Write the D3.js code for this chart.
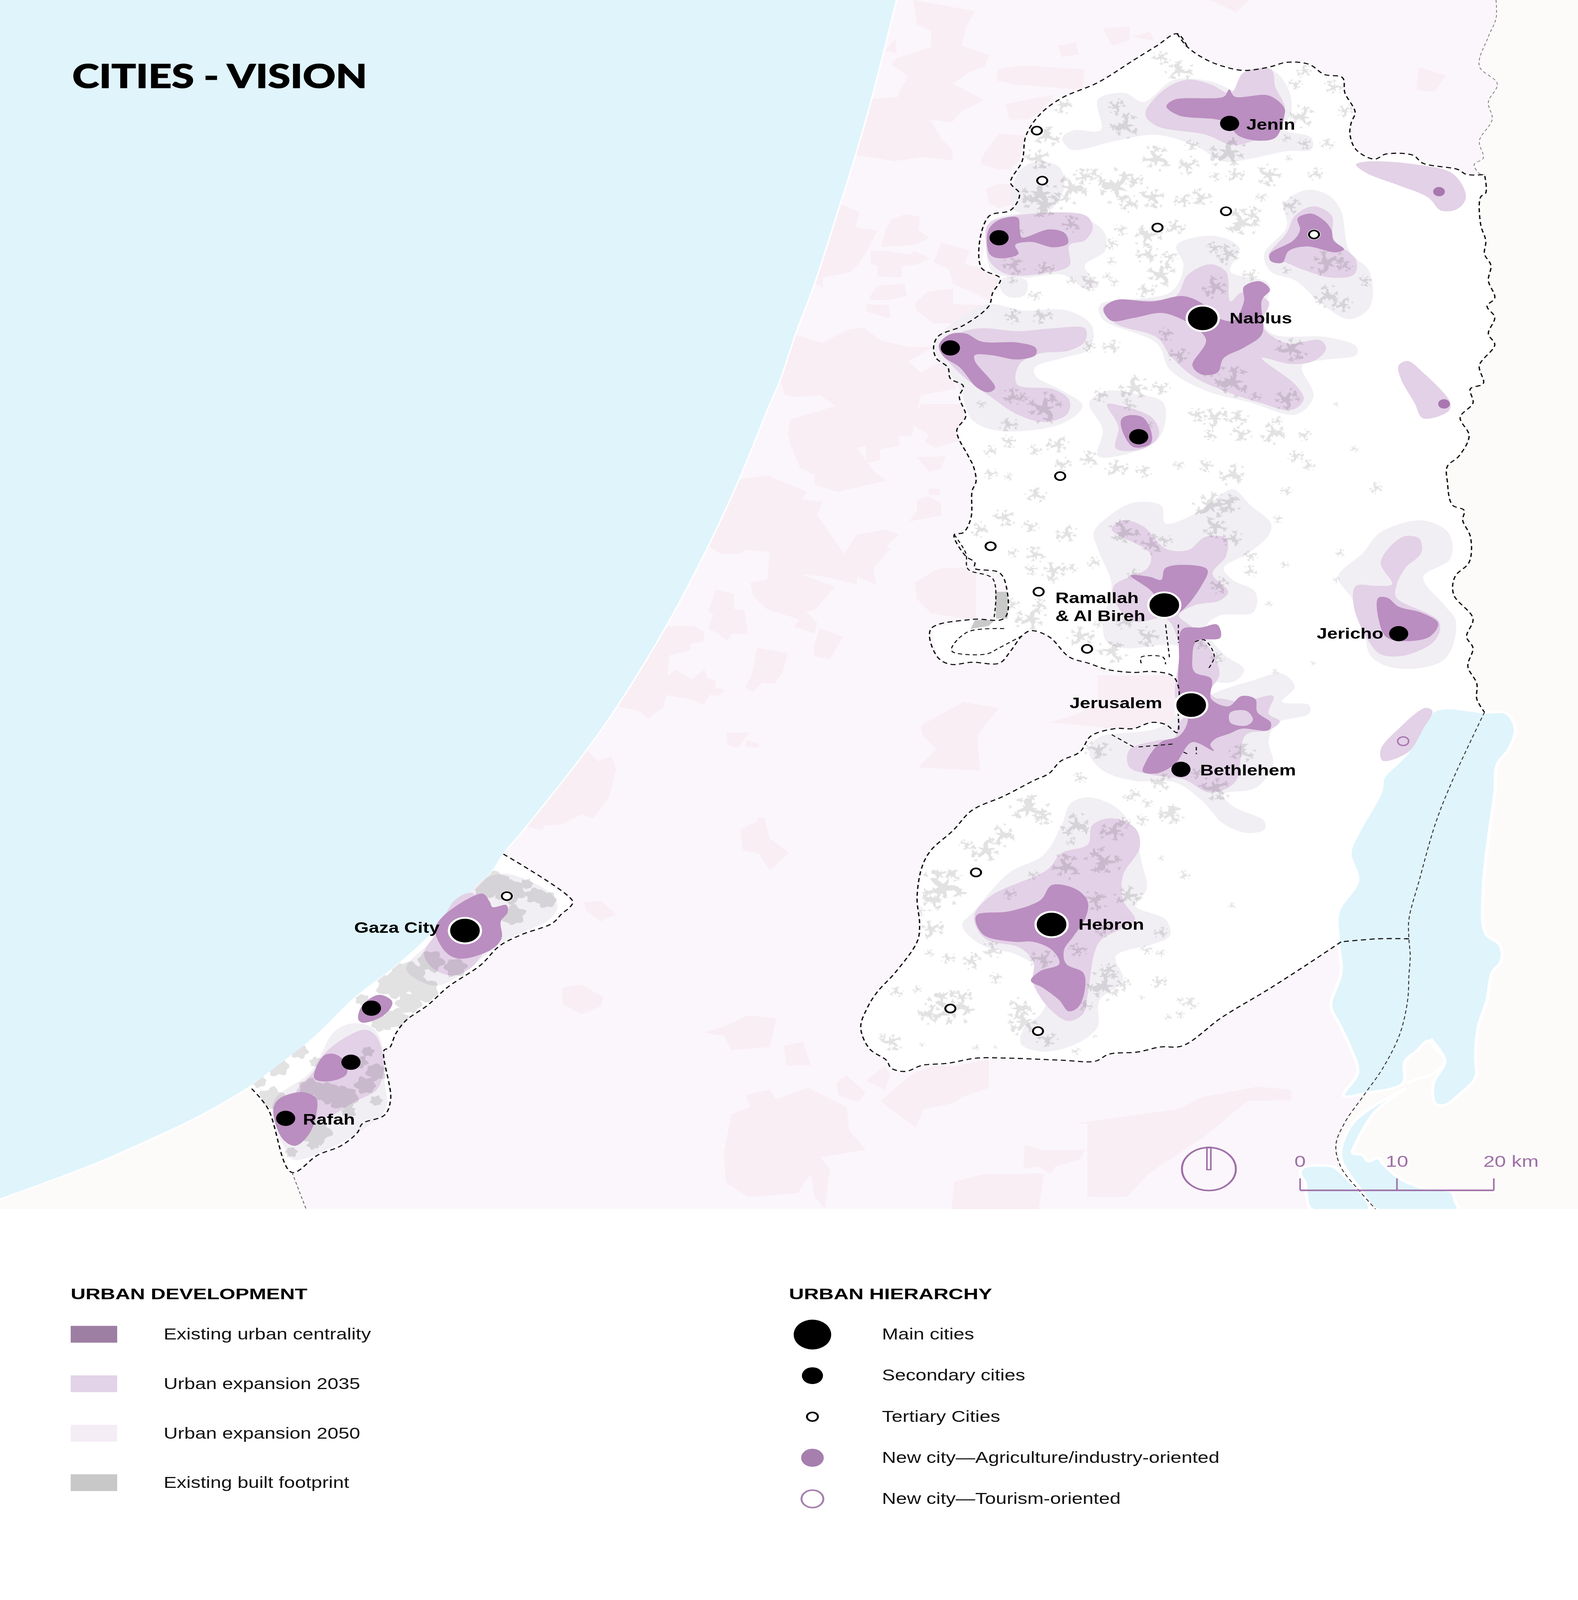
<!DOCTYPE html>
<html>
<head>
<meta charset="utf-8">
<script src="https://cdnjs.cloudflare.com/ajax/libs/d3/7.8.5/d3.min.js"></script>
<style>
  html, body { margin: 0; background: #fff; overflow: hidden; }
  svg { display: block; width: 100vw; height: 100vh; }
  text { font-family: "Liberation Sans", Arial, sans-serif; }
</style>
</head>
<body>
<svg id="map"></svg>
<script>
// ---- map geometry (page units: 1232 x 1568) ----
const coast = [[700,0],[680.5,97],[668,152],[656,200],[636,278],[621,328],[609,373],[601,396],[577,470],[553,535],[520,614],[482,692],[458,735],[411,810],[393,837],[383,856],[334,919],[309,947],[277,978],[244,1018],[195,1065],[152,1096],[75,1140],[0,1175]];

const wbNorth = [[919,33],[927,46],[941,58],[955,65],[971,69],[990,66],[1005,61],[1022,63],[1034,73],[1048,76],[1050,91],[1058,110],[1055,120],[1054,132],[1059,147],[1073,156],[1082,151],[1103,152],[1111,160],[1138,166],[1145,171]];
const wbEast = [[1159,171],[1160,189],[1156,193],[1156,220],[1160,236],[1159,249],[1164,260],[1162,275],[1167,292],[1161,300],[1167,311],[1162,327],[1167,338],[1155,358],[1158,376],[1148,381],[1150,395],[1140,409],[1147,427],[1139,447],[1130,457],[1130,472],[1134,495],[1143,500],[1142,510],[1148,526],[1147,551],[1136,565],[1135,583],[1150,606],[1145,624],[1150,635],[1146,653],[1153,670],[1153,685],[1159,698]];
const deadSeaLineNorth = [[1135,762],[1121,806],[1108,863],[1100,901],[1100,920]];
const wbSouth = [[1076,920],[1047,923],[1028,939],[991,969],[954,997],[923,1025],[906,1026],[888,1031],[866,1033],[855,1040],[829,1039],[788,1037],[762,1037],[740,1042],[720,1044],[707,1050],[696,1047],[692,1039],[679,1028],[672,1007],[677,988],[685,972],[699,953],[716,923],[718,907],[716,879],[720,849],[727,833],[744,814],[759,794],[784,780],[807,765],[819,758],[828,746],[843,737],[852,721],[871,714],[885,714],[899,708],[910,710],[919,718],[920,699]];
const wbWest = [[920,673],[915,662],[899,658],[885,659],[864,656],[850,650],[835,644],[819,624],[805,618],[798,623],[789,638],[780,650],[759,649],[742,651],[732,644],[727,616],[759,607],[784,606],[786,577],[780,561],[761,557],[761,551],[754,545],[745,524],[752,522],[758,508],[759,481],[762,472],[760,457],[756,447],[747,422],[754,408],[749,389],[752,378],[742,371],[740,360],[731,351],[729,339],[733,329],[752,319],[772,300],[775,287],[781,273],[766,262],[772,212],[789,206],[796,190],[789,179],[798,158],[801,133],[812,112],[829,96],[857,81],[885,59],[903,45]];

const gazaBorder = [[393,837],[447,883],[445,889],[439,895],[431,905],[407,916],[390,927],[375,946],[350,967],[334,985],[317,1000],[309,1013],[304,1027],[300,1029],[305,1077],[300,1093],[283,1101],[279,1110],[266,1123],[248,1132],[228,1149],[209,1086],[195,1065]];
const egyptBorder = [[228,1149],[239,1185]];
const jordanNorth = [[1168,0],[1168,18],[1162,36],[1155,65],[1169,82],[1162,100],[1165,117],[1155,138],[1158,155],[1151,161],[1155,170],[1159,171]];
const deadSeaLineSouth = [[1100,920],[1101,937],[1100,956],[1099,980],[1093,1013],[1080,1046],[1065,1073],[1050,1100],[1043,1122],[1047,1144],[1062,1168],[1074,1185]];

const deadSeaNorth = [[1123,695],[1159,698],[1176,699],[1183,714],[1178,734],[1169,749],[1167,778],[1162,822],[1158,872],[1160,915],[1171,926],[1172,942],[1165,953],[1161,980],[1154,1007],[1152,1035],[1152,1056],[1139,1073],[1128,1083],[1121,1082],[1119,1062],[1128,1040],[1121,1028],[1115,1020],[1106,1030],[1097,1040],[1095,1062],[1068,1071],[1049,1074],[1060,1051],[1054,1026],[1045,1002],[1039,986],[1047,953],[1045,923],[1045,893],[1060,863],[1054,836],[1060,817],[1078,776],[1080,762],[1085,755],[1099,737],[1106,714]];
const deadSeaSouthEast = [[1097,1067],[1074,1089],[1058,1122],[1056,1130],[1064,1132],[1068,1138],[1076,1135],[1080,1141],[1093,1155],[1110,1164],[1133,1168],[1136,1177],[1138,1185],[1075,1185],[1063,1167],[1048,1139],[1047,1126],[1058,1098]];
const deadSeaSouthWest = [[1024,1185],[1020,1171],[1019,1159],[1015,1150],[1018,1144],[1040,1143],[1044,1146],[1069,1185]];
const deltaChannel = [[1117,1018],[1128,1040],[1119,1052],[1105,1058],[1098,1062]];

const israelPatches = [
  [[713,0],[761,11],[754,27],[751,45],[772,54],[769,65],[755,72],[744,82],[768,98],[751,109],[743,120],[726,117],[735,136],[743,147],[744,157],[719,154],[698,158],[668,152],[680,97],[701,95],[702,90],[709,75],[696,63],[700,57],[727,46],[727,30],[716,24]],
  [[691,50],[699,38],[700,52]],
  [[779,68],[797,64],[847,68],[845,88],[794,83],[778,79]],
  [[785,102],[813,95],[823,93],[813,109],[803,117],[788,117]],
  [[766,155],[780,131],[800,133],[796,158],[788,166],[780,166],[766,161]],
  [[770,185],[780,180],[793,181],[796,191],[789,200],[780,204],[772,199]],
  [[656,200],[671,208],[668,223],[685,226],[677,245],[670,259],[663,267],[642,272],[643,282],[636,278]],
  [[696,215],[707,210],[718,212],[717,226],[726,233],[713,240],[688,242],[691,226]],
  [[680,246],[691,246],[712,250],[713,246],[726,253],[716,259],[704,261],[704,272],[685,271],[685,260],[680,259]],
  [[735,238],[757,245],[753,259],[779,265],[780,283],[772,294],[744,278],[741,264],[729,257]],
  [[679,291],[685,280],[706,278],[708,290],[693,294],[679,294]],
  [[677,298],[694,299],[695,312],[676,305]],
  [[714,298],[724,286],[744,283],[744,298],[768,299],[747,317],[729,317],[716,305]],
  [[621,328],[642,336],[662,323],[674,321],[688,334],[710,340],[729,340],[709,354],[719,365],[735,354],[743,370],[747,381],[719,387],[712,427],[615,427],[617,411],[652,398],[640,387],[623,389],[613,387],[609,373]],
  [[616,420],[652,407],[653,396],[697,396],[692,407],[702,421],[702,437],[687,440],[687,451],[676,454],[676,437],[669,439],[682,462],[692,471],[654,482],[636,475],[636,465],[625,459],[616,432]],
  [[712,416],[719,396],[751,396],[753,410],[748,418],[748,432],[730,439],[722,433],[725,426]],
  [[716,448],[738,447],[735,459],[725,462]],
  [[716,490],[725,486],[735,494],[735,505],[710,511],[716,500]],
  [[725,479],[734,479],[734,485],[725,485]],
  [[577,470],[599,466],[630,482],[626,489],[642,492],[638,505],[659,543],[669,524],[692,519],[702,524],[692,535],[695,538],[682,557],[684,573],[669,565],[669,573],[644,565],[626,563],[652,575],[636,598],[629,599],[638,610],[636,621],[620,614],[624,607],[614,603],[599,597],[588,584],[586,571],[599,568],[601,541],[583,539],[577,543],[563,543],[553,535]],
  [[559,578],[573,582],[573,597],[581,598],[584,621],[571,621],[568,628],[561,621],[553,616],[557,602],[553,599]],
  [[521,614],[530,613],[543,614],[550,620],[549,629],[539,631],[539,637],[523,642],[521,663],[528,656],[540,666],[550,656],[552,665],[558,666],[559,674],[566,676],[561,682],[554,681],[549,691],[538,685],[520,681],[518,693],[506,704],[499,697],[482,692]],
  [[591,635],[615,640],[611,659],[605,670],[595,669],[588,678],[582,674],[587,661]],
  [[640,616],[658,624],[648,646],[635,643],[636,631]],
  [[567,718],[585,718],[576,733],[568,730]],
  [[583,725],[593,729],[591,733],[582,731]],
  [[714,571],[733,557],[755,556],[762,563],[762,608],[727,601],[716,587]],
  [[719,711],[752,688],[780,694],[763,720],[765,755],[717,752],[731,734],[720,720]],
  [[857,662],[917,662],[917,714],[871,714],[819,708],[836,702],[857,691]],
  [[458,735],[467,746],[477,741],[481,753],[476,780],[463,802],[454,798],[439,808],[425,809],[423,814],[411,810]],
  [[578,813],[591,805],[592,801],[597,802],[601,823],[603,823],[616,836],[601,853],[593,837],[580,833]],
  [[456,884],[469,883],[481,896],[469,903],[458,893]],
  [[439,968],[454,965],[471,977],[469,986],[454,994],[439,984]],
  [[550,1012],[567,1005],[584,995],[606,998],[601,1026],[571,1029],[565,1015]],
  [[612,1025],[627,1021],[633,1044],[614,1044]],
  [[653,1061],[661,1054],[676,1071],[670,1080],[655,1074]],
  [[676,1059],[691,1044],[695,1053],[691,1068]],
  [[687,1079],[713,1052],[730,1044],[745,1045],[772,1038],[772,1066],[751,1075],[745,1081],[721,1087],[715,1105]],
  [[582,1073],[601,1068],[606,1077],[631,1066],[661,1085],[663,1108],[676,1127],[640,1134],[648,1145],[644,1184],[636,1173],[633,1150],[623,1169],[584,1173],[567,1159],[565,1131],[571,1092],[586,1085]],
  [[839,1101],[920,1087],[939,1075],[982,1065],[1008,1068],[1008,1078],[974,1079],[941,1113],[897,1150],[880,1173],[849,1173],[849,1101]],
  [[800,1122],[815,1127],[847,1127],[843,1136],[824,1143],[820,1151],[811,1143],[799,1145]],
  [[745,1158],[768,1151],[815,1150],[811,1185],[743,1185]],
  [[861,28],[882,26],[882,39],[868,45]],
  [[826,45],[840,42],[842,53],[829,56]],
  [[884,36],[898,31],[901,40]],
  [[945,0],[975,0],[965,12]],
  [[1108,66],[1129,74],[1120,90],[1106,88]]
];

const north2050 = [
  [[540,400],[565,375],[625,375],[620,270],[680,250],[720,280],[790,205],[870,210],[930,240],[950,175],[1010,175],[1045,240],[1050,320],[1030,370],[1095,400],[1095,440],[1040,445],[960,470],[900,480],[840,430],[750,390],[660,410],[560,440]],
  [[440,520],[480,480],[530,495],[545,560],[515,640],[465,655],[430,640]],
  [[380,680],[550,655],[630,710],[635,780],[590,830],[620,900],[590,905],[540,860],[450,870],[385,850],[370,760]],
  [[410,870],[460,880],[455,930],[420,935],[400,900]],
  [[1035,620],[1085,575],[1130,590],[1160,640],[1180,780],[1225,850],[1225,970],[1180,1010],[1120,960],[1060,880],[1005,850],[990,790],[1040,700]],
  [[795,760],[880,730],[935,770],[915,850],[1000,890],[985,1010],[1010,1060],[1130,1070],[1195,1100],[1195,1130],[1130,1145],[1075,1165],[1100,1270],[1060,1330],[960,1290],[860,1250],[780,1180],[750,1090],[630,1010],[625,960],[780,920],[810,830]],
  [[265,1065],[370,960],[450,980],[550,980],[605,1030],[600,1110],[540,1140],[480,1170],[480,1200],[540,1250],[585,1300],[540,1360],[400,1385],[340,1350],[310,1240],[255,1110]],
  [[600,1290],[640,1250],[700,1260],[765,1290],[755,1410],[690,1460],[620,1470],[630,1380]]
];
const north2035 = [
  [[725,320],[770,235],[820,205],[870,220],[915,250],[945,180],[1005,170],[1015,230],[1035,290],[1035,330],[1015,400],[970,410],[920,425],[860,390],[750,360]],
  [[1195,490],[1220,480],[1330,490],[1410,520],[1440,600],[1420,640],[1385,645],[1355,600],[1290,560],[1220,520]],
  [[1060,660],[1100,630],[1140,660],[1145,740],[1195,810],[1190,860],[1140,870],[1080,845],[1040,820],[1000,800],[1040,720]],
  [[375,690],[420,665],[590,660],[608,700],[590,745],[556,760],[555,830],[500,855],[420,860],[380,820],[370,760]],
  [[630,975],[650,950],[790,935],[820,860],[870,825],[905,850],[915,950],[940,920],[1000,950],[985,1030],[1040,1090],[1115,1080],[1128,1110],[1100,1150],[1050,1160],[985,1140],[1060,1230],[1078,1280],[1050,1315],[980,1290],[900,1250],[830,1200],[780,1130],[750,1070],[660,1025]],
  [[265,1095],[310,1055],[360,1040],[440,1050],[520,1040],[590,1040],[590,1085],[555,1115],[490,1125],[445,1160],[440,1230],[520,1245],[555,1280],[550,1330],[500,1355],[440,1330],[380,1270],[310,1190]],
  [[640,1295],[670,1300],[740,1340],[755,1400],[720,1445],[660,1445],[665,1370]],
  [[1290,1165],[1310,1150],[1345,1190],[1405,1290],[1400,1320],[1345,1343],[1325,1290],[1295,1210]]
];
const northCentrality = [
  [[772,295],[790,272],[900,262],[912,238],[925,262],[1000,258],[1035,300],[1035,325],[1015,400],[980,410],[935,395],[900,345],[800,325]],
  [[375,710],[400,675],[440,668],[445,710],[450,735],[510,708],[545,720],[552,755],[520,768],[470,750],[435,760],[442,790],[410,805],[380,795]],
  [[1065,670],[1095,655],[1125,680],[1140,710],[1145,745],[1168,775],[1150,785],[1085,765],[1045,780],[1030,820],[1005,815],[1003,790],[1055,745],[1070,710]],
  [[632,975],[660,945],[740,950],[810,932],[855,960],[880,1000],[920,1015],[945,950],[945,900],[980,882],[1003,910],[985,945],[985,1060],[945,1105],[900,1140],[885,1190],[850,1195],[830,1165],[860,1075],[770,990],[700,1005],[650,1015]],
  [[265,1095],[290,1060],[325,1058],[360,1085],[440,1088],[480,1105],[480,1130],[440,1145],[380,1130],[345,1130],[345,1150],[390,1240],[375,1255],[350,1240],[310,1170],[275,1135]],
  [[672,1345],[690,1332],[720,1340],[740,1400],[735,1430],[700,1440],[675,1390]]
];

const center2050 = [
  [[610,220],[640,170],[700,120],[760,130],[770,190],[820,170],[880,110],[920,75],[960,130],[1005,190],[1000,230],[955,290],[900,340],[920,380],[970,420],[965,490],[890,500],[860,540],[900,630],[945,680],[925,720],[880,720],[850,650],[790,600],[680,610],[640,590],[630,520],[650,400],[620,280]],
  [[880,760],[960,720],[1030,695],[1058,740],[1030,790],[1090,800],[1090,830],[1020,860],[1000,920],[1010,1000],[970,1080],[900,1100],[920,1140],[990,1190],[990,1220],[950,1230],[900,1200],[850,1120],[790,1060],[700,1055],[630,1020],[600,960],[620,910],[750,880],[800,830]],
  [[1155,370],[1210,290],[1250,220],[1340,180],[1400,220],[1405,310],[1345,370],[1395,470],[1418,520],[1390,650],[1290,678],[1230,640],[1210,520],[1185,440]]
];
const center2035 = [
  [[650,210],[675,180],[720,200],[770,275],[820,280],[860,235],[905,240],[905,300],[875,360],[910,420],[890,450],[835,465],[800,500],[830,540],[880,640],[890,700],[870,760],[905,800],[800,800],[800,600],[770,510],[700,520],[660,460],[655,400],[730,340],[735,290]],
  [[800,860],[880,780],[940,790],[1010,770],[1000,830],[1025,855],[1000,885],[950,900],[925,1060],[870,1095],[810,1050],[740,1035],[690,1010],[690,950],[750,920],[790,910]],
  [[1250,320],[1300,235],[1335,240],[1340,290],[1305,340],[1285,400],[1285,440],[1380,520],[1370,585],[1300,635],[1250,630],[1225,590],[1190,470],[1195,400],[1240,400],[1275,395]],
  [[1250,950],[1290,880],[1350,810],[1365,820],[1345,880],[1310,960],[1255,988]]
];
const centerCentrality = [
  [[692,365],[735,370],[760,380],[770,340],[820,330],[863,345],[850,400],[800,490],[770,500],[740,420]],
  [[808,545],[850,540],[885,530],[892,575],[840,585],[830,640],[835,690],[872,712],[872,780],[910,805],[940,770],[970,780],[975,825],[1005,860],[1000,885],[940,880],[915,895],[880,915],[870,935],[878,955],[830,925],[790,1000],[750,1030],[720,1025],[725,995],[760,925],[800,905],[820,850],[800,760],[800,650]],
  [[1245,440],[1265,440],[1290,470],[1340,490],[1378,525],[1360,570],[1320,585],[1265,575],[1245,510]]
];
const centerHole2035 = [[[915,825],[950,820],[965,850],[950,870],[915,860]]];

const south2050 = [[[325,480],[400,340],[470,280],[510,170],[530,90],[565,70],[620,100],[660,180],[680,310],[690,400],[665,460],[730,510],[738,570],[700,600],[625,640],[640,730],[590,800],[585,900],[530,965],[470,985],[425,960],[430,900],[470,840],[480,720],[420,640],[340,600],[300,530]]];
const south2035 = [[[325,500],[360,425],[480,330],[510,270],[565,240],[575,170],[615,145],[665,180],[675,250],[640,350],[640,440],[665,510],[640,540],[590,590],[565,780],[555,850],[525,875],[490,840],[450,740],[450,660],[420,610],[350,580]]];
const southCentrality = [[[330,495],[400,480],[465,440],[490,385],[540,400],[565,445],[560,505],[535,570],[515,620],[520,670],[555,700],[560,750],[545,825],[525,840],[505,800],[470,755],[445,730],[465,695],[505,670],[490,620],[450,590],[410,590],[345,565]]];

const gaza2050 = [
  [[1040,220],[1120,190],[1200,210],[1300,270],[1322,320],[1290,370],[1190,420],[1100,470],[1010,550],[900,620],[850,620],[770,560],[900,420],[960,330]],
  [[290,1065],[420,960],[510,800],[580,770],[650,790],[690,890],[690,990],[700,1080],[680,1125],[520,1240],[360,1300],[330,1260],[285,1160]]
];
const gaza2035 = [
  [[835,500],[880,420],[950,290],[1010,265],[1050,330],[1100,420],[1050,500],[1000,560],[940,585],[870,560]],
  [[370,1030],[430,960],[470,890],[540,830],[620,795],[660,820],[685,900],[685,970],[660,1030],[580,1075],[490,1130],[400,1150],[360,1100]]
];
const gazaCentrality = [
  [[875,410],[900,360],[1000,285],[1050,268],[1075,300],[1085,320],[1135,312],[1140,340],[1115,375],[1118,440],[1080,485],[970,520],[920,500]],
  [[595,755],[610,700],[670,660],[715,680],[718,700],[680,745],[610,768]],
  [[435,985],[470,895],[510,890],[550,925],[550,970],[490,995]],
  [[285,1100],[310,1060],[390,1037],[440,1060],[442,1120],[415,1200],[365,1245],[320,1220]]
];

// built-up patches: sheet x, sheet y, extent
const northBuilt = [[505,395,26],[485,470,26],[560,570,34],[490,590,36],[500,625,34],[590,530,20],[660,565,40],[700,545,18],[610,520,14],[740,600,26],[690,620,20],[810,610,18],[850,600,22],[750,470,30],[820,495,22],[925,525,18],[880,530,12],[1000,525,26],[1105,520,16],[985,600,12],[940,685,34],[965,660,20],[730,730,28],[790,700,20],[670,710,14],[650,755,14],[730,790,22],[780,800,16],[650,815,10],[760,860,30],[725,915,18],[640,865,10],[655,885,10],[910,790,24],[960,860,16],[880,770,16],[680,360,30],[660,295,18],[800,175,26],[760,130,18],[540,290,20],[1080,175,16],[1060,220,14],[1145,230,18],[1075,330,26],[1170,310,16],[1130,420,14],[1080,420,14],[1040,400,10],[910,450,36],[830,425,14],[1045,470,8],[1050,630,20],[1130,820,32],[1170,830,14],[1215,880,14],[1130,930,26],[1165,960,20],[1040,845,10],[560,690,20],[440,720,12],[500,840,18],[430,830,22],[600,885,20],[560,880,10],[480,930,14],[430,880,10],[430,1000,18],[495,1000,20],[375,1100,10],[430,1110,14],[600,1100,14],[650,1100,18],[360,1295,10],[430,1270,20],[500,1310,36],[420,1365,18],[450,1270,12],[770,1060,16],[880,900,26],[800,1130,20],[870,1180,20],[920,1220,36],[1040,1280,26],[970,1270,12],[1050,1110,30],[625,1265,16],[700,1240,30],[760,1240,18],[690,1300,14],[735,1365,8],[880,1340,26],[930,1340,20],[840,1330,18],[1010,1390,26],[1020,1350,12],[940,1395,20],[870,1400,14],[1080,1400,14],[1060,1470,16],[1150,1295,6],[420,1420,16],[380,1450,14],[530,1430,22],[480,1450,14],[600,1480,20],[540,1500,18],[660,1510,22],[720,1520,16],[860,1500,16],[920,1530,26],[800,1500,12],[1090,1500,14],[420,1540,10],[380,1530,14],[1190,1445,9]];
const centerBuilt = [[480,95,20],[410,170,22],[355,210,18],[550,225,22],[470,200,16],[480,295,20],[430,290,12],[520,350,24],[560,340,12],[470,345,14],[610,320,14],[470,510,30],[430,460,14],[490,465,16],[520,380,10],[580,570,26],[650,620,28],[730,570,24],[680,520,18],[620,530,10],[680,220,30],[740,260,24],[770,250,14],[870,130,34],[910,120,24],[880,200,26],[920,240,20],[960,300,14],[960,350,14],[890,400,20],[1035,330,9],[1000,460,8],[1020,175,10],[1240,70,14],[1040,80,12],[1100,660,6],[1160,290,10],[1150,380,8],[850,600,12],[885,640,14],[800,340,10],[700,360,14],[620,950,24],[580,1045,14],[760,1060,22],[840,1030,14],[940,960,24],[880,1080,30],[700,1100,14],[780,1165,22],[730,1130,12],[1015,690,8]];
const southBuilt = [[440,110,36],[470,140,20],[385,205,26],[350,260,30],[310,240,14],[260,395,44],[240,440,26],[235,545,24],[280,350,16],[210,480,12],[540,170,30],[620,190,26],[600,300,34],[520,320,30],[450,350,12],[640,160,14],[740,130,24],[680,150,14],[530,230,10],[650,70,10],[770,350,12],[720,290,7],[400,420,14],[650,425,26],[580,440,24],[600,540,20],[720,555,14],[690,620,12],[365,620,20],[320,660,20],[270,650,14],[230,630,10],[370,720,14],[205,760,10],[470,650,24],[545,620,18],[600,750,34],[640,745,16],[560,820,14],[610,690,18],[420,830,26],[430,880,30],[480,940,20],[275,830,44],[230,850,24],[300,790,20],[160,770,14],[150,950,22],[130,930,8],[330,970,8],[215,960,6],[370,970,5],[540,985,10],[715,735,16],[780,810,16],[760,850,10],[735,860,8],[720,630,10],[680,790,6],[870,460,8],[760,800,8],[580,930,5]];
const gazaBuilt = [[1090,230,36],[1150,260,34],[1240,275,22],[1280,290,24],[1210,230,14],[1160,350,28],[1060,250,26],[860,530,30],[950,555,26],[770,590,44],[720,620,38],[830,640,36],[780,690,30],[730,750,28],[680,770,24],[610,680,16],[380,880,20],[300,940,26],[230,995,18],[280,1060,30],[440,920,14],[600,920,18],[630,880,14],[660,960,24],[480,1040,30],[540,1060,34],[620,1010,24],[660,1070,14],[420,1020,26],[560,1115,16],[440,1190,36],[350,1270,14],[430,1240,14]];
const builtDarkPatches = [[[390,420],[418,420],[418,510],[392,510]],[[345,515],[390,515],[375,535],[335,545]]];

// outline of a built-up patch, as radial reach, and the smaller bits around it
const speckA = [1,.9,.55,.8,.35,.3,.7,.45,1.1,.6,.3,.25,.5,.85,.4,.3,.65,1,.5,.35,.6,.3,.75,.95];
const speckB = [.7,.85,.4,.3,.55,1.05,.95,.45,.3,.35,.8,.5,.3,.6,.9,1.1,.5,.35,.3,.65,.85,.4,.55,.6];
const blockA = [1,.95,.8,.9,1.05,.95,.7,.85,1,1.05,.8,.75,.95,1.1,.9,.7,.85,1,.95,.8,.9,1,.85,.9];
const speckBits = [[0,0,.8],[.95,.35,.42],[-.85,.55,.36],[.25,-1,.34],[-.55,-.75,.26],[.65,.95,.28],[1.35,-.3,.18],[-1.3,-.15,.16]];
const blockBits = [[0,0,1]];

// ---- cities ----
const mainCities = [[939,312],[909,593],[930,691],[821,906],[363,912]];
const secondaryCities = [[960,121],[780,233],[742,341],[889,428],[1092,621],[922,754],[290,988],[274,1041],[223,1096]];
const tertiaryCities = [[809.5,128],[813.7,177],[903.7,223],[957.2,207],[1025.9,229.8],[827.7,466.6],[773.4,535.3],[810.9,579.9],[848.7,635.9],[762,855],[742,988.4],[810.4,1010.5],[395.7,878.2]];
const agriCities = [[1123.5,187.8],[1127.4,395.8]];
const tourismCities = [[1095.5,726.4]];
const cityLabels = ["Jenin","Nablus","Ramallah","& Al Bireh","Jericho","Jerusalem","Bethlehem","Hebron","Gaza City","Rafah"];
const cityLabelX = [973,960,824,824,1028,835,937,842,276.5,236.5];
const cityLabelY = [127,317,591,608.5,626,694,760,911,914,1102];

// ---- legend ----
const devLabels = ["Existing urban centrality","Urban expansion 2035","Urban expansion 2050","Existing built footprint"];
const hierLabels = ["Main cities","Secondary cities","Tertiary Cities","New city\u2014Agriculture/industry-oriented","New city\u2014Tourism-oriented"];
const kmTicks = [0,10,20];

// ---- colours ----
const SEA = "#e0f4fc", LAND = "#fbf6fb", PATCH = "#f8eef3", JORDAN = "#fdfbfa";
const C2050 = "#f1eff3", C2035 = "#e3d1e7", CENTRE = "#ba8ec0", BUILT = "#e2e2e2";
const PURPLE = "#9e6fa8";

const width = 4040, height = 5142, mapBottom = 3885;

// the drawing always fills the window
const svg = d3.select("#map").attr("viewBox", `0 0 ${width} ${height}`)
  .attr("preserveAspectRatio", "none");
svg.append("rect").attr("width", width).attr("height", height).attr("fill", "#fff");

// page scale and the four enlarged sheets
const px = d3.scaleLinear().domain([0, 1232]).range([0, width]);
const py = d3.scaleLinear().domain([0, 1568]).range([0, height]);
const sheet = (x0, x1, y0, y1) => ({
  x: d3.scaleLinear().domain([0, 1568]).range([x0, x1]),
  y: d3.scaleLinear().domain([0, 1568]).range([y0, y1])
});
const pageSheet = { x: px, y: py };
const northSheet = sheet(2100, 3900, 60, 1560);
const centerSheet = sheet(2100, 3900, 1500, 3000);
const southSheet = sheet(2100, 4000, 2500, 3900);
const gazaSheet = sheet(500, 1600, 2650, 3950);

const lineOn = (s, curve) => d3.line().x(d => s.x(d[0])).y(d => s.y(d[1])).curve(curve);
const smooth = d3.curveCatmullRomClosed.alpha(0.5);
const straight = d3.curveLinearClosed;
const open = d3.curveCatmullRom.alpha(0.5);

const defs = svg.append("defs");
const westBank = wbNorth.concat(wbEast, deadSeaLineNorth, wbSouth, wbWest);
const gazaShape = gazaBorder.concat(coast.slice(15, 20).reverse());

defs.append("clipPath").attr("id", "mapClip").append("rect")
  .attr("width", width).attr("height", mapBottom);
const landClip = defs.append("clipPath").attr("id", "landClip");
landClip.append("path").attr("d", lineOn(pageSheet, straight)(westBank));
landClip.append("path").attr("d", lineOn(pageSheet, straight)(gazaShape));

const map = svg.append("g").attr("clip-path", "url(#mapClip)");

map.append("rect").attr("width", width).attr("height", mapBottom).attr("fill", LAND);

map.append("g").selectAll("path").data(israelPatches).enter().append("path")
  .attr("d", lineOn(pageSheet, straight))
  .attr("fill", PATCH);

// Jordan side and Egypt corner
const jordan = jordanNorth.concat(wbEast, deadSeaLineNorth, deadSeaLineSouth, [[1232,1185],[1232,0]]);
map.append("path").attr("d", lineOn(pageSheet, straight)(jordan)).attr("fill", JORDAN);
const egypt = coast.slice(20).concat([[0,1185]], egyptBorder.slice().reverse(), [[209,1086]]);
map.append("path").attr("d", lineOn(pageSheet, straight)(egypt)).attr("fill", JORDAN);

// sea with its white shore
map.append("path")
  .attr("d", d3.line().x(d => px(d[0])).y(d => py(d[1]))(coast.concat([[0,0]])) + "Z")
  .attr("fill", SEA);
map.append("path")
  .attr("d", lineOn(pageSheet, open)(coast))
  .attr("fill", "none").attr("stroke", "#fff").attr("stroke-width", 4);

// west bank and gaza
map.append("path").attr("d", lineOn(pageSheet, straight)(westBank)).attr("fill", "#fff");
map.append("path").attr("d", lineOn(pageSheet, straight)(gazaShape)).attr("fill", "#fff");

// dead sea
[deadSeaNorth, deadSeaSouthEast, deadSeaSouthWest].forEach(shape => {
  map.append("path").attr("d", lineOn(pageSheet, smooth)(shape))
    .attr("fill", SEA).attr("stroke", "#fff").attr("stroke-width", 8);
});
map.append("path").attr("d", lineOn(pageSheet, open)(deltaChannel))
  .attr("fill", "none").attr("stroke", "#fff").attr("stroke-width", 8);

// urban expansion layers
const drawAreas = (layer, s, shapes, fill) => layer.append("g").selectAll("path")
  .data(shapes).enter().append("path")
  .attr("d", lineOn(s, smooth)).attr("fill", fill);

const areas2050 = map.append("g");
drawAreas(areas2050, northSheet, north2050, C2050);
drawAreas(areas2050, centerSheet, center2050, C2050);
drawAreas(areas2050, southSheet, south2050, C2050);
drawAreas(areas2050, gazaSheet, gaza2050, C2050);

const areas2035 = map.append("g");
drawAreas(areas2035, northSheet, north2035, C2035);
drawAreas(areas2035, centerSheet, center2035, C2035);
drawAreas(areas2035, southSheet, south2035, C2035);
drawAreas(areas2035, gazaSheet, gaza2035, C2035);

// built footprint sits between expansion areas and centralities
const built = map.append("g").attr("clip-path", "url(#landClip)")
  .style("mix-blend-mode", "multiply");
const radial = d3.lineRadial().curve(d3.curveLinearClosed);
const drawBuilt = (s, list, shapes, bits) => {
  const patch = built.append("g").selectAll("g").data(list).enter().append("g")
    .attr("transform", (d, i) => `translate(${s.x(d[0])},${s.y(d[1])}) rotate(${i * 47})`);
  patch.each(function (d, i) {
    const g = d3.select(this);
    const outline = g.append("g");
    bits.forEach((b, k) => {
      const shape = shapes[(i + k) % shapes.length];
      outline.append("path")
        .attr("transform", `translate(${b[0] * d[2]},${b[1] * d[2]})`)
        .attr("d", radial.angle((r, n) => (n / shape.length + k * 0.19) * 2 * Math.PI)
          .radius(r => r * d[2] * b[2] * 1.2)(shape))
        .attr("fill", BUILT);
    });
  });
};
drawBuilt(northSheet, northBuilt, [speckA, speckB], speckBits);
drawBuilt(centerSheet, centerBuilt, [speckA, speckB], speckBits);
drawBuilt(southSheet, southBuilt, [speckA, speckB], speckBits);
drawBuilt(gazaSheet, gazaBuilt, [blockA], blockBits);

map.append("g").selectAll("path").data(builtDarkPatches).enter().append("path")
  .attr("d", lineOn(centerSheet, straight)).attr("fill", "#c9c9c9");

const centres = map.append("g");
drawAreas(centres, northSheet, northCentrality, CENTRE);
drawAreas(centres, centerSheet, centerCentrality, CENTRE);
drawAreas(centres, southSheet, southCentrality, CENTRE);
drawAreas(centres, gazaSheet, gazaCentrality, CENTRE);
drawAreas(centres, centerSheet, centerHole2035, C2035);

// borders
const dashed = (points, curve, w, dash, colour) => map.append("path")
  .attr("d", lineOn(pageSheet, curve)(points))
  .attr("fill", "none").attr("stroke", colour)
  .attr("stroke-width", w).attr("stroke-dasharray", dash);

dashed(wbNorth.concat([[1159,171]], wbEast), open, 3.5, "13 9", "#111");
dashed(wbSouth.slice(1).concat(wbWest, [wbNorth[0]], wbNorth.slice(1, 2)), open, 3.5, "13 9", "#111");
dashed(deadSeaLineSouth.slice(0, 1).concat(wbSouth.slice(0, 2)), open, 3.5, "13 9", "#111");
dashed(gazaBorder, open, 3.5, "13 9", "#111");
dashed(jordanNorth, open, 2, "9 7", "#777");
dashed(egyptBorder, open, 2, "9 7", "#555");
dashed(wbEast.slice(-1).concat(deadSeaLineNorth, deadSeaLineSouth.slice(1)), open, 2.5, "11 8", "#333");

// small inner fragments of the line around Jerusalem and the Latrun salient
const innerLines = [
  [[784,616],[756,619],[743,635],[744,639],[770,641],[780,635],[798,623]],
  [[745,524],[754,542],[756,558],[775,567],[776,606]],
  [[910,612],[913,644]],
  [[891,650],[891,644],[908,644],[910,651]],
  [[920,612],[920,630]],
  [[933,629],[940,627],[948,643],[943,656]],
  [[889,732],[917,729]],
  [[868,720],[885,732]],
  [[924,737],[929,740]],
  [[934,732],[934,739]]
];
innerLines.forEach(l => dashed(l, open, 3, "11 8", "#111"));

// cities
const at = (g, list, r, fill, stroke, sw) => g.append("g").selectAll("circle")
  .data(list).enter().append("circle")
  .attr("cx", d => px(d[0])).attr("cy", d => py(d[1])).attr("r", r)
  .attr("fill", fill).attr("stroke", stroke).attr("stroke-width", sw);

at(map, mainCities, 41, "#000", "#fff", 6);
at(map, secondaryCities, 24.5, "#000", "none", 0);
at(map, tertiaryCities, 17, "#fff", "none", 0);
at(map, tertiaryCities, 13, "#fff", "#000", 5);
at(map, agriCities, 15, "#a877b0", "none", 0);
at(map, tourismCities, 14, "none", "#a877b0", 4);

map.append("g").selectAll("text").data(cityLabels).enter().append("text")
  .attr("x", (d, i) => px(cityLabelX[i]))
  .attr("y", (d, i) => py(cityLabelY[i]))
  .attr("font-size", 48).attr("font-weight", 700).attr("fill", "#000")
  .text(d => d);

// north sign
const north = map.append("g").attr("transform", "translate(3095,3757)");
north.append("circle").attr("r", 69).attr("fill", "none").attr("stroke", PURPLE).attr("stroke-width", 5);
north.append("rect").attr("x", -5).attr("y", -70).attr("width", 10).attr("height", 72)
  .attr("fill", "none").attr("stroke", PURPLE).attr("stroke-width", 4);

// scale bar
const kmScale = d3.scaleLinear().domain([0, 20]).range([3328, 3824]);
const scaleBar = map.append("g").attr("transform", "translate(0,3825)")
  .call(d3.axisTop(kmScale).tickValues(kmTicks).tickSize(38).tickSizeOuter(0)
    .tickPadding(37).tickFormat(d => d === 20 ? "20 km" : d));
scaleBar.select(".domain").attr("stroke", PURPLE).attr("stroke-width", 5);
scaleBar.selectAll("line").attr("stroke", PURPLE).attr("stroke-width", 4);
scaleBar.selectAll("text").attr("fill", PURPLE).attr("font-size", 52)
  .attr("font-family", "Liberation Sans")
  .attr("dx", d => d === 20 ? 44 : 0);

// title
svg.append("text").attr("x", 185).attr("y", 283)
  .attr("font-weight", 900).attr("font-size", 106)
  .attr("stroke", "#000").attr("stroke-width", 2)
  .attr("textLength", 755).attr("lengthAdjust", "spacingAndGlyphs")
  .style("font-family", "Lato, 'Liberation Sans', sans-serif")
  .text("CITIES - VISION");

// legends
const legendHead = (x, w, label) => svg.append("text").attr("x", x).attr("y", 4175)
  .attr("font-size", 49).attr("font-weight", 700)
  .attr("textLength", w).attr("lengthAdjust", "spacingAndGlyphs").text(label);
legendHead(181, 606, "URBAN DEVELOPMENT");
legendHead(2020, 520, "URBAN HIERARCHY");

const devY = d3.scalePoint().domain(devLabels).range([4288, 4765]);
const devColour = d3.scaleOrdinal().domain(devLabels).range(["#9d7fa3", "#e2d3e8", "#f5edf6", "#c8c8c8"]);
svg.append("g").selectAll("rect").data(devLabels).enter().append("rect")
  .attr("x", 181).attr("y", d => devY(d) - 27).attr("width", 119).attr("height", 54)
  .attr("fill", d => devColour(d));
svg.append("g").selectAll("text").data(devLabels).enter().append("text")
  .attr("x", 419).attr("y", d => devY(d) + 17)
  .attr("font-size", 50).attr("fill", "#111").text(d => d);

const hierY = d3.scalePoint().domain(hierLabels).range([4289, 4817]);
const hierX = 2080;
const hierMarks = [
  { r: 48, fill: "#000", stroke: "none", sw: 0 },
  { r: 27, fill: "#000", stroke: "none", sw: 0 },
  { r: 14, fill: "#fff", stroke: "#000", sw: 5 },
  { r: 29, fill: "#a67fae", stroke: "none", sw: 0 },
  { r: 28, fill: "#fff", stroke: "#a67fae", sw: 5 }
];
svg.append("g").selectAll("circle").data(hierLabels).enter().append("circle")
  .attr("cx", hierX).attr("cy", d => hierY(d))
  .attr("r", (d, i) => hierMarks[i].r).attr("fill", (d, i) => hierMarks[i].fill)
  .attr("stroke", (d, i) => hierMarks[i].stroke).attr("stroke-width", (d, i) => hierMarks[i].sw);
svg.append("g").selectAll("text").data(hierLabels).enter().append("text")
  .attr("x", 2258).attr("y", d => hierY(d) + 16)
  .attr("font-size", 50).attr("fill", "#111").text(d => d);
</script>
</body>
</html>
